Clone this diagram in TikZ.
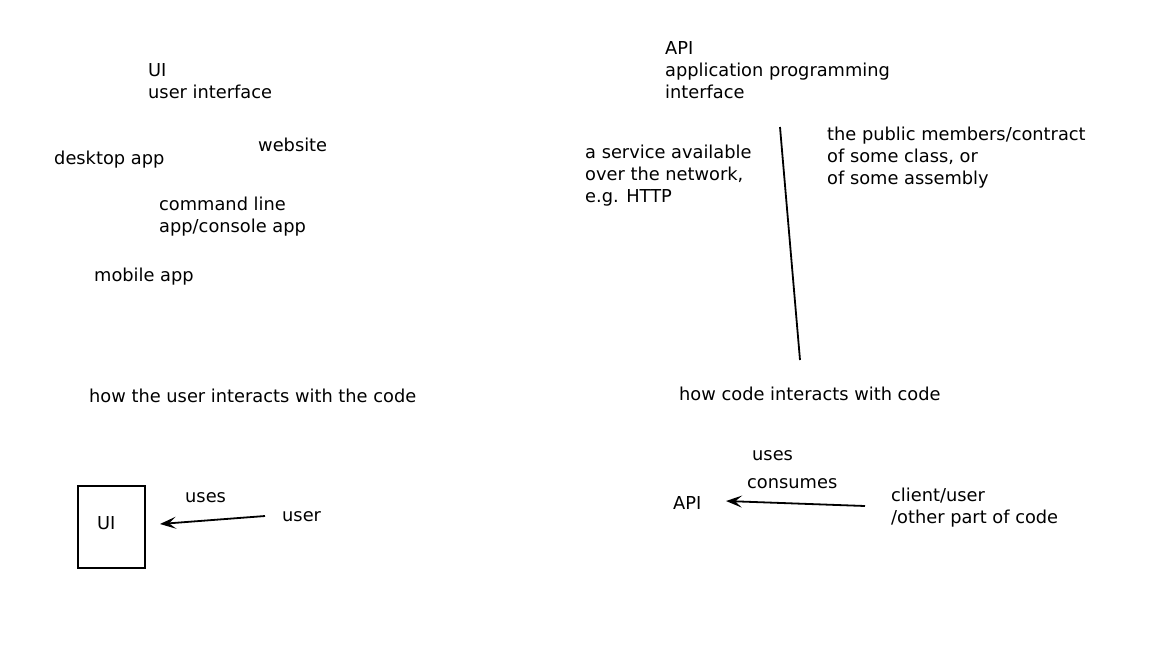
\documentclass[tikz,border=0pt]{standalone}
\usepackage{fontspec}
\setmainfont{DejaVu Sans}
\usetikzlibrary{arrows.meta}
\begin{document}
\begin{tikzpicture}[x=1pt,y=-1pt,
  lbl/.style={anchor=base west,inner sep=0pt,align=left,font=\fontsize{17.8}{22}\selectfont},
  conn/.style={line width=1.8pt,-{Stealth[length=16pt,width=12pt,inset=7pt]}},
  plain/.style={line width=1.8pt}]
\useasboundingbox[fill=white] (0,0) rectangle (1168,657);
% left side (anchor = baseline of last line)
\node[lbl] (ui) at (148,98) {UI\\user interface};
\node[lbl] (web) at (258,151) {website};
\node[lbl] (desk) at (54,164) {desktop app};
\node[lbl] (cmd) at (159,232) {command line\\app/console app};
\node[lbl] (mob) at (94,281) {mobile app};
\node[lbl] (howui) at (89,402) {how the user interacts with the code};
\node[draw,line width=1.8pt,minimum width=67pt,minimum height=82pt,inner sep=0pt] (box) at (111.5,527) {};
\node[lbl] (uibox) at (97,529) {UI};
\node[lbl] (uses1) at (185,502) {uses};
\node[lbl] (user) at (282,521) {user};
\coordinate (a1s) at (265,516);
\coordinate (a1e) at (160,524);
\draw[conn] (a1s) -- (a1e);
% right side
\node[lbl] (api) at (665,98) {API\\application programming\\interface};
\node[lbl] (svc) at (585,202) {a service available\\over the network,\\e.g. HTTP};
\node[lbl] (pub) at (827,184) {the public members/contract\\of some class, or\\of some assembly};
\coordinate (l1) at (780,127);
\coordinate (l2) at (800,360);
\draw[plain] (l1) -- (l2);
\node[lbl] (howapi) at (679,400) {how code interacts with code};
\node[lbl] (uses2) at (752,460) {uses};
\node[lbl] (cons) at (747,488) {consumes};
\node[lbl] (api2) at (673,509) {API};
\node[lbl] (client) at (891,523) {client/user\\/other part of code};
\coordinate (a2s) at (865,506);
\coordinate (a2e) at (726,501);
\draw[conn] (a2s) -- (a2e);
\end{tikzpicture}
\end{document}
